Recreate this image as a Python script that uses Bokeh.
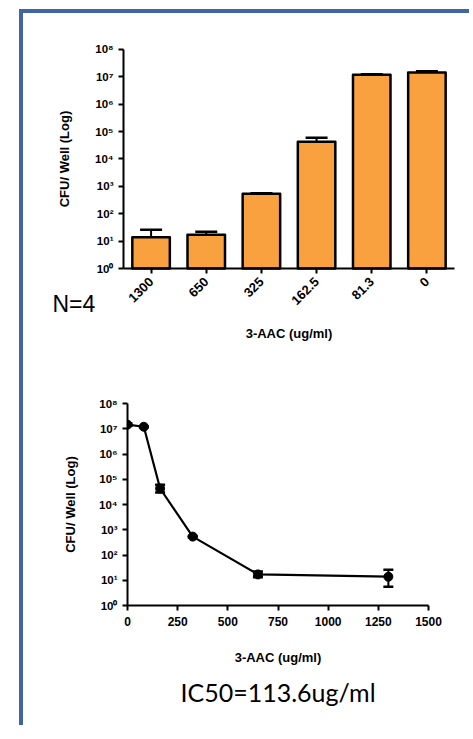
import math
from bokeh.plotting import figure
from bokeh.layouts import column
from bokeh.models import (ColumnDataSource, FixedTicker, Whisker, TeeHead, Label, Range1d, Title)
from bokeh.embed import file_html
from bokeh.resources import INLINE

# ---- data ----
conc_labels = ["1300", "650", "325", "162.5", "81.3", "0"]
conc_values = [1300, 650, 325, 162.5, 81.3, 0]
cfu_mean = [13.8, 17, 535, 43000, 1.2e7, 1.45e7]
cfu_upper = [25.8, 22, 560, 60000, 1.25e7, 1.6e7]
cfu_lower = [5.5, 13, 510, 30000, 1.15e7, 1.3e7]
y_ticks = [1, 10, 100, 1e3, 1e4, 1e5, 1e6, 1e7, 1e8]
y_tick_labels = ["10⁰", "10¹", "10²", "10³", "10⁴", "10⁵", "10⁶", "10⁷", "10⁸"]
x_ticks_line = [0, 250, 500, 750, 1000, 1250, 1500]
x_label = "3-AAC (ug/ml)"
y_label = "CFU/ Well (Log)"

FONT = "Liberation Sans"
ORANGE = "#F9A03F"
BLUE = "#4065A3"


def style_axes(p):
    for ax in [p.xaxis[0], p.yaxis[0]]:
        ax.axis_line_width = 2
        ax.axis_line_color = "black"
        ax.major_tick_line_width = 2
        ax.major_tick_line_color = "black"
        ax.major_tick_out = 5
        ax.major_tick_in = 0
        ax.minor_tick_line_color = None
        ax.major_label_text_font = FONT
        ax.major_label_text_font_style = "bold"
        ax.major_label_text_font_size = "12px"
        ax.major_label_text_color = "black"
        ax.axis_label_text_font = FONT
        ax.axis_label_text_font_style = "bold"
        ax.axis_label_text_font_size = "13px"
        ax.axis_label_text_color = "black"
    p.grid.visible = False
    p.outline_line_color = None
    p.background_fill_color = "white"
    p.border_fill_color = "white"
    p.yaxis[0].ticker = FixedTicker(ticks=y_ticks)
    p.yaxis[0].major_label_overrides = {t: l for t, l in zip(y_ticks, y_tick_labels)}
    p.yaxis[0].major_label_text_font_size = "11.5px"


# ---- top: bar chart (frame fills the figure, axes fixed inside) ----
bar_x = [i + 0.5 for i in range(len(conc_labels))]
p1 = figure(width=446, height=357, x_range=Range1d(-1.8126, 6.272),
            y_axis_type="log", y_range=Range1d(10 ** -3.726, 10 ** 9.315),
            output_backend="svg", toolbar_location=None,
            min_border_left=0, min_border_right=0, min_border_top=0, min_border_bottom=0)
src1 = ColumnDataSource(dict(x=bar_x, top=cfu_mean, up=cfu_upper))
p1.vbar(x="x", top="top", bottom=1, width=0.68, source=src1, fill_color=ORANGE,
        line_color="black", line_width=2.5, line_join="round")
p1.add_layout(Whisker(base="x", lower="top", upper="up", source=src1, dimension="height",
                      line_width=2, line_color="black",
                      upper_head=TeeHead(size=22, line_width=2.5, line_color="black"),
                      lower_head=None))
style_axes(p1)
p1.xaxis[0].fixed_location = 1
p1.xaxis[0].bounds = (0, len(conc_labels))
p1.xaxis[0].ticker = FixedTicker(ticks=bar_x)
p1.xaxis[0].major_label_overrides = {x: l for x, l in zip(bar_x, conc_labels)}
p1.xaxis[0].major_label_orientation = math.pi / 4
p1.xaxis[0].major_label_text_font_size = "13px"
p1.xaxis[0].major_label_standoff = 6
p1.xaxis[0].axis_label = x_label
p1.xaxis[0].axis_label_standoff = 14
p1.yaxis[0].fixed_location = 0
p1.yaxis[0].bounds = (1, 1e8)
p1.yaxis[0].axis_label = y_label
p1.yaxis[0].axis_label_standoff = 20
p1.add_layout(Label(x=-1.287, y=10 ** -1.279, text="N=4",
                    text_font=FONT, text_font_size="23px", text_align="left",
                    text_baseline="middle", text_color="black"))

# ---- bottom: line chart ----
p2 = figure(width=446, height=355, x_range=Range1d(0, 1500),
            y_axis_type="log", y_range=Range1d(1, 1e8),
            output_backend="svg", toolbar_location=None,
            min_border_left=104, min_border_right=41, min_border_top=33, min_border_bottom=120)
src2 = ColumnDataSource(dict(x=conc_values, y=cfu_mean, up=cfu_upper, lo=cfu_lower))
p2.line(x="x", y="y", source=src2, line_color="black", line_width=2.2)
p2.add_layout(Whisker(base="x", lower="lo", upper="up", source=src2, dimension="height",
                      line_width=2, line_color="black",
                      upper_head=TeeHead(size=10, line_width=2.5, line_color="black"),
                      lower_head=TeeHead(size=10, line_width=2.5, line_color="black")))
p2.scatter(x="x", y="y", source=src2, marker="circle", size=9, fill_color="black", line_color="black")
style_axes(p2)
p2.xaxis[0].ticker = FixedTicker(ticks=x_ticks_line)
p2.xaxis[0].major_label_standoff = 6
p2.xaxis[0].axis_label = x_label
p2.xaxis[0].axis_label_standoff = 21
p2.yaxis[0].axis_label = y_label
p2.yaxis[0].axis_label_standoff = 18
p2.add_layout(Title(text="IC50=113.6ug/ml", align="center", text_font="Lato",
                    text_font_size="25px", text_font_style="normal", text_color="black",
                    standoff=14), "below")

c1 = column(p1, spacing=0, margin=(9, 0, 0, 19),
            styles={"border-left": f"4px solid {BLUE}", "border-top": f"4px solid {BLUE}"})
c2 = column(p2, spacing=0, margin=(0, 0, 0, 19),
            styles={"border-left": f"4px solid {BLUE}"})

open("out.html", "w").write(file_html([c1, c2], INLINE))
